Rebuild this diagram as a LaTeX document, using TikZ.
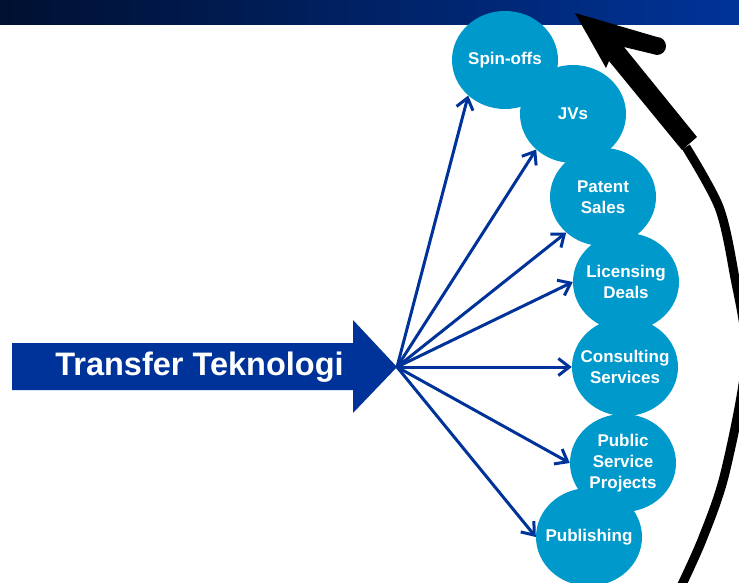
\documentclass[tikz,border=0pt]{standalone}
\usepackage{fontspec}
\setmainfont{Liberation Sans}
\usetikzlibrary{shapes.geometric,arrows.meta}
\definecolor{barleft}{RGB}{0,16,48}
\definecolor{barright}{RGB}{0,51,153}
\definecolor{ttblue}{RGB}{0,51,153}
\definecolor{bubble}{RGB}{0,153,204}
\tikzset{bub/.style={ellipse,fill=bubble,text=white,font=\fontsize{17}{21}\selectfont\bfseries,
    align=center,minimum width=106pt,minimum height=98pt,inner sep=-12pt},
  fan/.style={->,ttblue,line width=3pt}}
\begin{document}
\begin{tikzpicture}[x=1pt,y=-1pt,line join=round,>={Straight Barb[length=11pt,width=17pt]}]
\useasboundingbox (0,0) rectangle (739,583);
\clip (0,0) rectangle (739,583);
\shade[left color=barleft,right color=barright] (0,0) rectangle (739,25);
% big arrow
\fill[ttblue] (12,343)--(353,343)--(353,320)--(397,367)--(353,413)--(353,390)--(12,390)--cycle;
\coordinate (hub) at (397,367);
\node[anchor=base,text=white,font=\fontsize{32.5}{39}\selectfont\bfseries] (tt) at (199.5,375) {Transfer Teknologi};
\foreach \n/\x/\y/\t in {spin/505/60/Spin-offs, jv/573/114/JVs, pat/603/197/{Patent\\Sales},
    lic/626/282/{Licensing\\Deals}, con/625/367/{Consulting\\Services},
    pub/623/463/{Public\\Service\\Projects}, publ/589/537/Publishing}
  \node[bub] (\n) at (\x,\y) {\t};
\foreach \n/\a in {spin/224,jv/224,pat/224,lic/180,con/180,pub/180,publ/180}
  \draw[fan] (hub)--(\n.\a);
% curved arrow
\draw[line width=9pt] plot[smooth] coordinates {(677,595) (702,540) (725,473) (746,358) (734,273) (719,207) (686,147)};
\fill (575,13)--(657,37) arc[start angle=-90,end angle=90,radius=9]--(624,47)--(697,137)--(682,150)--(609,61)--(606,68)--cycle;
\end{tikzpicture}
\end{document}
